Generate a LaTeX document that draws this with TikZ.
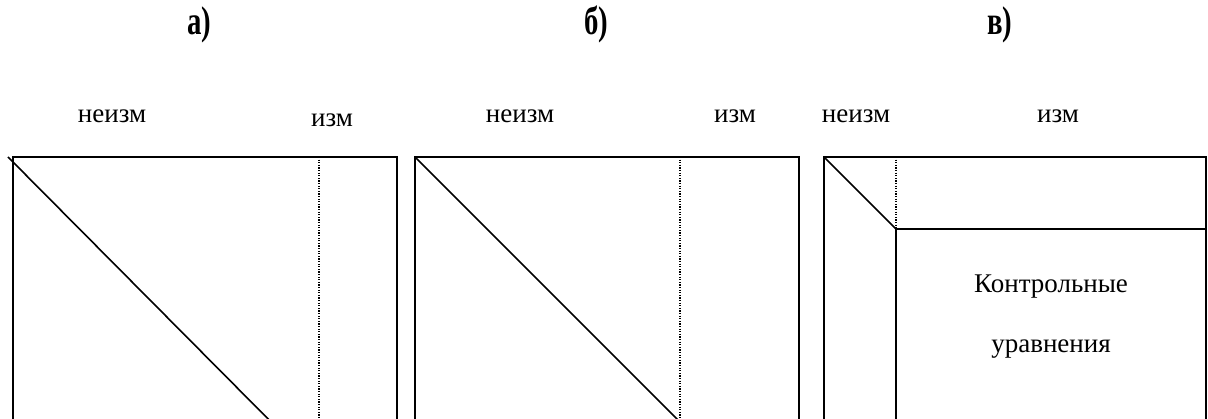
\documentclass[tikz,border=0pt]{standalone}
\usepackage{graphicx}
\usepackage{fontspec}
\setmainfont{Liberation Serif}
\begin{document}
\begin{tikzpicture}[x=1pt,y=-1pt,
  frame/.style={line width=1.8pt, line join=miter},
  diag/.style={line width=1.6pt},
  dotln/.style={line width=1.4pt, dash pattern=on 1.3pt off 1.3pt},
  lbl/.style={anchor=base, inner sep=0pt, font=\fontsize{27}{30}\selectfont},
  ttl/.style={anchor=base, inner sep=0pt, font=\bfseries\fontsize{40}{44}\selectfont}]
\useasboundingbox (0,0) rectangle (1208,419);
\clip (0,0) rectangle (1208,419);

% titles
\node[ttl] (ta) at (199,35) {\scalebox{0.72}[1]{а)}};
\node[ttl] (tb) at (596,35) {\scalebox{0.72}[1]{б)}};
\node[ttl] (tc) at (1000,35) {\scalebox{0.72}[1]{в)}};

% column labels
\node[lbl] (an) at (112,123) {неизм};
\node[lbl] (ai) at (332,127) {изм};
\node[lbl] (bn) at (520,123) {неизм};
\node[lbl] (bi) at (735,123) {изм};
\node[lbl] (cn) at (856,123) {неизм};
\node[lbl] (ci) at (1058,123) {изм};

% panel a
\coordinate (aTL) at (13,157);
\coordinate (aTR) at (397,157);
\coordinate (aBL) at (13,440);
\coordinate (aBR) at (397,440);
\coordinate (aDs) at (8,157);
\coordinate (aDe) at (289,440);
\coordinate (aVt) at (319,157);
\coordinate (aVb) at (319,440);
\draw[frame] (aBL) -- (aTL) -- (aTR) -- (aBR);
\draw[diag] (aDs) -- (aDe);
\draw[dotln] (aVt) -- (aVb);

% panel b
\coordinate (bTL) at (415,157);
\coordinate (bTR) at (799,157);
\coordinate (bBL) at (415,440);
\coordinate (bBR) at (799,440);
\coordinate (bDe) at (698,440);
\coordinate (bVt) at (680,157);
\coordinate (bVb) at (680,440);
\draw[frame] (bBL) -- (bTL) -- (bTR) -- (bBR);
\draw[diag] (bTL) -- (bDe);
\draw[dotln] (bVt) -- (bVb);

% panel c
\coordinate (cTL) at (824,157);
\coordinate (cTR) at (1206,157);
\coordinate (cBL) at (824,440);
\coordinate (cBR) at (1206,440);
\coordinate (cIn) at (896,229);
\coordinate (cVt) at (896,157);
\coordinate (cR) at (1206,229);
\coordinate (cIb) at (896,440);
\draw[frame] (cBL) -- (cTL) -- (cTR) -- (cBR);
\draw[diag] (cTL) -- (cIn);
\draw[dotln] (cVt) -- (cIn);
\draw[frame] (cR) -- (cIn) -- (cIb);
\node[lbl] (k1) at (1051,293) {Контрольные};
\node[lbl] (k2) at (1051,353) {уравнения};
\end{tikzpicture}
\end{document}
